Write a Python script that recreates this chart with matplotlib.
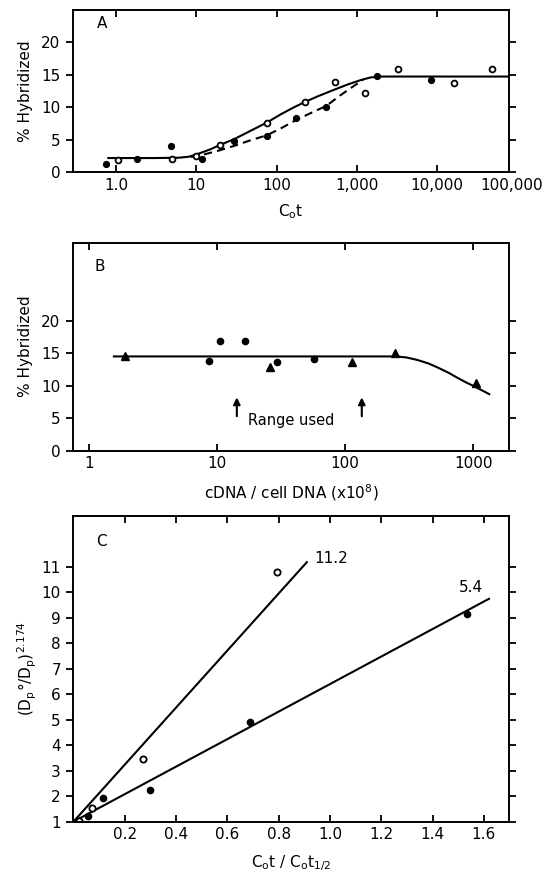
import matplotlib.pyplot as plt
import numpy as np

plt.rcParams['font.family'] = ['DejaVu Sans']
plt.rcParams['mathtext.default'] = 'regular'

# ---- panel A: hybridization vs Cot ----
a_open_x = [1.07, 5.0, 10, 20, 76, 225, 535, 1260, 3230, 16200, 49000]
a_open_y = [1.8, 2.07, 2.4, 4.23, 7.6, 10.8, 13.85, 12.14, 15.87, 13.8, 15.9]
a_fill_x = [0.75, 1.83, 4.87, 11.8, 29.5, 77, 174, 417, 1770, 8500]
a_fill_y = [1.19, 2.07, 4.03, 1.96, 4.75, 5.53, 8.27, 10.08, 14.83, 14.2]
a_solid_x = [0.8, 3, 6, 8, 10, 15, 20, 30, 50, 75, 113, 160, 225, 330, 500,
             770, 1130, 1500, 2000, 78000]
a_solid_y = [2.15, 2.15, 2.2, 2.35, 2.7, 3.5, 4.2, 5.1, 6.5, 7.6, 8.9, 9.9,
             10.8, 11.7, 12.6, 13.5, 14.2, 14.6, 14.73, 14.73]
a_dash_x = [8.5, 12, 19, 30, 45, 77, 120, 174, 268, 417, 636, 900, 1200]
a_dash_y = [2.3, 2.65, 3.3, 4.05, 4.8, 5.7, 6.9, 8.0, 9.1, 10.2, 11.9, 13.2, 14.2]
a_ticks = [1, 10, 100, 1000, 10000]
a_ticklabels = ['1.0', '10', '100', '1,000', '10,000']

# ---- panel B: hybridization vs cDNA/cell DNA ----
b_tri_x = [1.93, 26, 113, 245, 1050]
b_tri_y = [14.5, 12.9, 13.6, 15.1, 10.36]
b_dot_x = [8.7, 10.5, 16.7, 29.4, 57.7]
b_dot_y = [13.74, 16.9, 16.8, 13.7, 14.1]
b_curve_x = [1.57, 10, 100, 249, 300, 368, 450, 527, 640, 755, 880, 1018, 1333]
b_curve_y = [14.5, 14.5, 14.5, 14.5, 14.35, 13.95, 13.4, 12.8, 12.0, 11.2,
             10.5, 9.9, 8.7]
b_arrows_x = [14.3, 135]

# ---- panel C: (Dp°/Dp)^2.174 vs Cot/Cot1/2 ----
c_open_x = [0.022, 0.071, 0.273, 0.794]
c_open_y = [1.03, 1.55, 3.46, 10.79]
c_fill_x = [0.01, 0.055, 0.117, 0.299, 0.687, 1.533]
c_fill_y = [1.0, 1.22, 1.94, 2.24, 4.90, 9.14]
c_line1_x = [0.0, 0.91]
c_line1_y = [1.0, 11.19]
c_line2_x = [0.0, 1.62]
c_line2_y = [1.0, 9.75]

fs = 11
lw = 1.5

fig = plt.figure(figsize=(5.5, 8.77), dpi=100)
axA = fig.add_axes([0.1327, 0.8039, 0.7927, 0.1847])
axB = fig.add_axes([0.1327, 0.4861, 0.7927, 0.2372])
axC = fig.add_axes([0.1336, 0.0631, 0.7927, 0.3485])


def style(ax):
    for s in ax.spines.values():
        s.set_linewidth(1.4)
    ax.tick_params(which='major', direction='in', length=5, width=1.3,
                   top=True, right=True, labelsize=fs, pad=4)
    ax.tick_params(axis='y', which='major', direction='out', left=True)
    ax.tick_params(axis='y', which='major', right=True)
    ax.minorticks_off()


# panel A
axA.set_xscale('log')
axA.plot(a_solid_x, a_solid_y, color='black', lw=lw)
axA.plot(a_dash_x, a_dash_y, color='black', lw=lw, ls=(0, (4, 2.5)))
axA.plot(a_fill_x, a_fill_y, 'o', color='black', ms=4.2)
axA.plot(a_open_x, a_open_y, 'o', mfc='white', mec='black', mew=1.3, ms=4.2)
axA.set_xlim(0.29, 79000)
axA.set_ylim(0, 25)
axA.set_xticks(a_ticks)
axA.set_xticklabels(a_ticklabels)
axA.set_yticks([0, 5, 10, 15, 20])
style(axA)
axA.annotate('100,000', xy=(100000, 0), xycoords=('data', 'axes fraction'),
             xytext=(-4, -4), textcoords='offset points', ha='center', va='top',
             fontsize=fs, annotation_clip=False)
axA.set_ylabel('% Hybridized', fontsize=fs, labelpad=6)
axA.set_xlabel(r'C$_{\mathrm{o}}$t', fontsize=fs, labelpad=7)
axA.text(0.066, 0.914, 'A', transform=axA.transAxes, fontsize=fs,
         ha='center', va='center')

# panel B
axB.set_xscale('log')
axB.plot(b_curve_x, b_curve_y, color='black', lw=lw)
axB.plot(b_tri_x, b_tri_y, '^', color='black', ms=6)
axB.plot(b_dot_x, b_dot_y, 'o', color='black', ms=4.5)
for xa in b_arrows_x:
    axB.annotate('', xy=(xa, 8.2), xytext=(xa, 5.3),
                 arrowprops=dict(arrowstyle='-|>', color='black', lw=1.5,
                                 mutation_scale=10, shrinkA=0, shrinkB=0))
axB.text(38, 4.6, 'Range used', fontsize=fs - 0.5, ha='center', va='center')
axB.set_xlim(0.753, 1900)
axB.set_ylim(0, 32)
axB.set_xticks([1, 10, 100, 1000])
axB.set_xticklabels(['1', '10', '100', '1000'])
axB.set_yticks([0, 5, 10, 15, 20])
style(axB)
axB.set_ylabel('% Hybridized', fontsize=fs, labelpad=6)
axB.set_xlabel(r'cDNA / cell DNA (x10$^{8}$)', fontsize=fs, labelpad=8)
axB.text(0.062, 0.885, 'B', transform=axB.transAxes, fontsize=fs,
         ha='center', va='center')

# panel C
axC.plot(c_line1_x, c_line1_y, color='black', lw=lw)
axC.plot(c_line2_x, c_line2_y, color='black', lw=lw)
axC.plot(c_fill_x, c_fill_y, 'o', color='black', ms=4.5)
axC.plot(c_open_x, c_open_y, 'o', mfc='white', mec='black', mew=1.3, ms=4.5)
axC.text(c_line1_x[1] + 0.03, c_line1_y[1] + 0.15, '11.2', fontsize=fs,
         ha='left', va='center')
axC.text(c_line2_x[1] - 0.07, c_line2_y[1] + 0.45, '5.4', fontsize=fs,
         ha='center', va='center')
axC.set_xlim(0, 1.7)
axC.set_ylim(1, 13)
axC.set_xticks(np.arange(0.2, 1.61, 0.2))
axC.set_xticklabels(['0.2', '0.4', '0.6', '0.8', '1.0', '1.2', '1.4', '1.6'])
axC.set_yticks(range(1, 12))
style(axC)
axC.set_ylabel(r'(D$_{\mathrm{p}}$°/D$_{\mathrm{p}}$)$^{2.174}$', fontsize=fs,
               labelpad=2)
axC.set_xlabel(r'C$_{\mathrm{o}}$t / C$_{\mathrm{o}}$t$_{1/2}$', fontsize=fs,
               labelpad=8)
axC.text(0.065, 0.918, 'C', transform=axC.transAxes, fontsize=fs,
         ha='center', va='center')

fig.savefig('out.png', dpi=100)
